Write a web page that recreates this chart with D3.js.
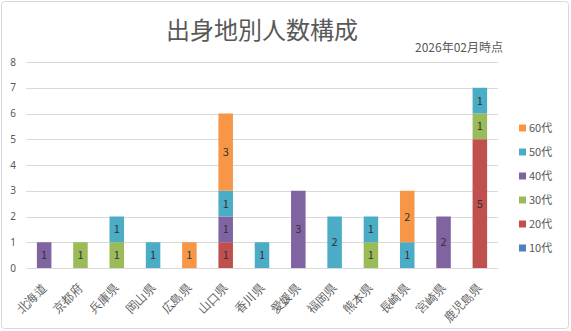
<!DOCTYPE html>
<html><head><meta charset="utf-8">
<script src="https://cdn.jsdelivr.net/npm/d3@7"></script>
<style>body{margin:0;background:#fff;}svg{display:block;font-family:"Noto Sans CJK JP","Noto Sans",sans-serif;}</style>
</head><body><svg id="c" width="571" height="331"></svg>
<script>
const categories = ["北海道","京都府","兵庫県","岡山県","広島県","山口県","香川県","愛媛県","福岡県","熊本県","長崎県","宮崎県","鹿児島県"];
const seriesNames = ["10代","20代","30代","40代","50代","60代"];
const s10 = [0,0,0,0,0,0,0,0,0,0,0,0,0];
const s20 = [0,0,0,0,0,1,0,0,0,0,0,0,5];
const s30 = [0,1,1,0,0,0,0,0,0,1,0,0,1];
const s40 = [1,0,0,0,0,1,0,3,0,0,0,2,0];
const s50 = [0,0,1,1,0,1,1,0,2,1,1,0,1];
const s60 = [0,0,0,0,1,3,0,0,0,0,2,0,0];
const yTicks = [0,1,2,3,4,5,6,7,8];
const colors = ["#4F81BD","#C0504D","#9BBB59","#8064A2","#4BACC6","#F79646"];
const title = "出身地別人数構成";
const subtitle = "2026年02月時点";

const seriesVals = [s10,s20,s30,s40,s50,s60];
const rows = categories.map((c,i)=>{const o={cat:c}; seriesNames.forEach((s,j)=>o[s]=seriesVals[j][i]); return o;});
const stacked = d3.stack().keys(seriesNames)(rows);

const svg = d3.select("#c");
svg.append("rect").attr("x",1.5).attr("y",1.5).attr("width",567).attr("height",327).attr("rx",3)
  .attr("fill","#fff").attr("stroke","#d9d9d9");

const pL=26, pR=498, pT=62, pB=268;
const x = d3.scaleBand().domain(categories).range([pL,pR]).paddingInner(0.6).paddingOuter(0.3);
const y = d3.scaleLinear().domain([0,8]).range([pB,pT]);

// gridlines
svg.append("g").selectAll("line").data(yTicks.filter(t=>t>0)).join("line")
  .attr("x1",pL).attr("x2",pR).attr("y1",d=>Math.round(y(d))+0.5).attr("y2",d=>Math.round(y(d))+0.5)
  .attr("stroke","#d9d9d9");

// bars
const g = svg.append("g");
stacked.forEach((layer,j)=>{
  g.selectAll(null).data(layer.filter(d=>d[1]-d[0]>0)).join("rect")
    .attr("x",d=>x(d.data.cat)).attr("width",x.bandwidth())
    .attr("y",d=>y(d[1])).attr("height",d=>y(d[0])-y(d[1]))
    .attr("fill",colors[j]);
  g.selectAll(null).data(layer.filter(d=>d[1]-d[0]>0)).join("text")
    .attr("x",d=>x(d.data.cat)+x.bandwidth()/2).attr("y",d=>(y(d[0])+y(d[1]))/2+4)
    .attr("text-anchor","middle").attr("font-size",11).attr("fill","#333")
    .text(d=>d[1]-d[0]);
});

// x axis baseline
svg.append("line").attr("x1",pL).attr("x2",pR).attr("y1",pB+0.5).attr("y2",pB+0.5).attr("stroke","#d9d9d9");

// y axis labels
const ya = svg.append("g").attr("transform",`translate(${pL-6},0)`)
  .call(d3.axisLeft(y).tickValues(yTicks).tickSize(0).tickPadding(0).tickFormat(d3.format("d")));
ya.select(".domain").remove();
ya.selectAll("text").attr("font-size",10).attr("fill","#595959").attr("font-family","'Noto Sans',sans-serif").attr("dx",-4);

// x axis labels
const xa = svg.append("g").attr("transform",`translate(0,${pB})`)
  .call(d3.axisBottom(x).tickSize(0).tickPadding(0));
xa.select(".domain").remove();
xa.selectAll("text").attr("font-size",12).attr("fill","#595959")
  .attr("text-anchor","end").attr("dy",0).attr("y",0)
  .attr("transform","translate(3,21) rotate(-45)");

// title
svg.append("text").attr("x",(pL+pR)/2).attr("y",39).attr("text-anchor","middle")
  .attr("font-size",24).attr("fill","#595959").text(title);
svg.append("text").attr("x",503).attr("y",52).attr("text-anchor","end")
  .attr("font-size",12).attr("fill","#595959").text(subtitle);

// legend
const leg = svg.append("g");
const order = seriesNames.slice().reverse();
order.forEach((s,i)=>{
  const yy = 128 + i*24;
  const j = seriesNames.indexOf(s);
  leg.append("rect").attr("x",519).attr("y",yy-3.5).attr("width",7).attr("height",7).attr("fill",colors[j]);
  leg.append("text").attr("x",529).attr("y",yy+4).attr("font-size",11).attr("fill","#595959").text(s);
});
</script></body></html>
